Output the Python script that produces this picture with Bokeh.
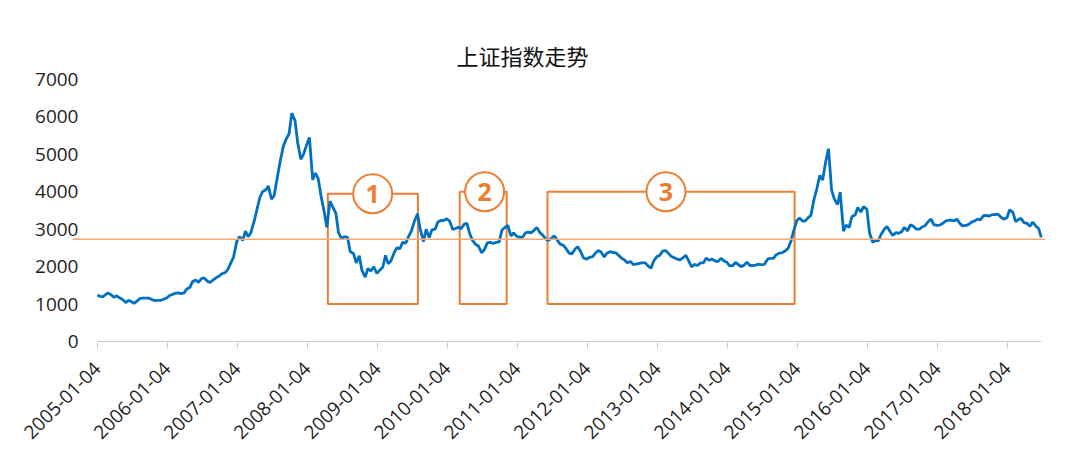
import math
from datetime import datetime
import pandas as pd
from bokeh.plotting import figure
from bokeh.models import Range1d, FixedTicker, Span, DatetimeTickFormatter
from bokeh.core.properties import value
from bokeh.embed import file_html
from bokeh.resources import INLINE

# ---------------- data ----------------
title_text = "上证指数走势"
x_labels = ["2005-01-04", "2006-01-04", "2007-01-04", "2008-01-04", "2009-01-04",
            "2010-01-04", "2011-01-04", "2012-01-04", "2013-01-04", "2014-01-04",
            "2015-01-04", "2016-01-04", "2017-01-04", "2018-01-04"]
y_ticks = [0, 1000, 2000, 3000, 4000, 5000, 6000, 7000]

# index level, twice a month (1st and 15th)
v2005 = [1242, 1210, 1190, 1250, 1300, 1250, 1180, 1220, 1160, 1120, 1040, 1100,
         1060, 1020, 1090, 1150, 1160, 1160, 1155, 1120, 1090, 1100, 1100, 1130]
v2006 = [1161, 1230, 1260, 1290, 1300, 1280, 1300, 1400, 1440, 1600, 1640, 1580,
         1680, 1700, 1610, 1580, 1650, 1700, 1750, 1810, 1840, 1920, 2100, 2250]
v2007 = [2675, 2800, 2700, 2950, 2800, 2900, 3200, 3500, 3840, 4000, 4050, 4150,
         3800, 3900, 4400, 4800, 5220, 5400, 5550, 6100, 5900, 5300, 4870, 5000]
v2008 = [5261, 5450, 4320, 4500, 4350, 3900, 3470, 3050, 3750, 3600, 3430, 2900,
         2750, 2800, 2780, 2400, 2350, 2100, 2290, 1900, 1720, 1950, 1880, 2000]
v2009 = [1821, 1900, 1990, 2300, 2080, 2150, 2370, 2500, 2480, 2650, 2630, 2800,
         2960, 3200, 3410, 3000, 2670, 3000, 2780, 2980, 3000, 3190, 3235, 3230]
v2010 = [3277, 3220, 2990, 3020, 3050, 3010, 3130, 3160, 2870, 2700, 2590, 2550,
         2370, 2450, 2640, 2650, 2620, 2650, 2660, 2970, 3050, 3100, 2820, 2900]
v2011 = [2808, 2790, 2790, 2900, 2920, 2900, 2970, 3050, 2910, 2850, 2740, 2700,
         2760, 2820, 2700, 2600, 2570, 2480, 2360, 2340, 2470, 2530, 2390, 2230]
v2012 = [2199, 2250, 2270, 2360, 2430, 2390, 2260, 2360, 2400, 2380, 2370, 2300,
         2225, 2180, 2100, 2140, 2050, 2070, 2090, 2100, 2100, 2020, 1960, 2150]
v2013 = [2269, 2300, 2420, 2430, 2360, 2280, 2240, 2200, 2180, 2230, 2300, 2160,
         1990, 2060, 2030, 2100, 2100, 2230, 2170, 2200, 2150, 2135, 2220, 2160]
v2014 = [2116, 2020, 2030, 2110, 2060, 2000, 2040, 2120, 2030, 2030, 2040, 2070,
         2050, 2060, 2200, 2220, 2220, 2320, 2360, 2370, 2420, 2480, 2680, 2950]
v2015 = [3235, 3300, 3210, 3230, 3310, 3370, 3810, 4080, 4440, 4310, 4830, 5150,
         4050, 3810, 3660, 3990, 2950, 3110, 3050, 3340, 3380, 3580, 3460, 3600]
v2016 = [3539, 2900, 2650, 2700, 2690, 2860, 3000, 3070, 2940, 2830, 2910, 2890,
         2930, 3050, 2950, 3120, 3070, 3000, 3000, 3060, 3100, 3200, 3270, 3120]
v2017 = [3104, 3110, 3160, 3220, 3240, 3240, 3220, 3270, 3150, 3090, 3100, 3130,
         3190, 3220, 3270, 3250, 3360, 3370, 3350, 3390, 3390, 3400, 3320, 3270]
v2018 = [3307, 3520, 3450, 3200, 3260, 3290, 3170, 3160, 3080, 3190, 3080, 3020]
last_date = "2018-06-29"
last_value = 2780

ref_level = 2730

box_labels = ["1", "2", "3"]
box_starts = ["2008-04-20", "2010-03-09", "2011-06-10"]
box_ends = ["2009-08-03", "2010-11-09", "2014-12-20"]
box_tops = [3950, 4000, 4000]
box_bottoms = [1000, 1000, 1000]
badge_dates = ["2008-12-10", "2010-07-17", "2013-02-17"]

# ---------------- build ----------------
values = (v2005 + v2006 + v2007 + v2008 + v2009 + v2010 + v2011 + v2012 +
          v2013 + v2014 + v2015 + v2016 + v2017 + v2018 + [last_value])
dates = list(pd.date_range("2005-01-01", "2018-06-15", freq="SMS"))
dates[0] = pd.Timestamp(x_labels[0])
dates.append(pd.Timestamp(last_date))

BLUE = "#0070C0"
ORANGE = "#ED7D31"
GRAY = "#C9C9C9"
TXT = "#1E1E1E"

p = figure(width=1076, height=458, x_axis_type="datetime",
           x_range=Range1d(datetime(2004, 8, 27), datetime(2018, 7, 21)),
           y_range=Range1d(-27, 7000),
           output_backend="svg", toolbar_location=None,
           min_border_left=72, min_border_right=31,
           min_border_top=79, min_border_bottom=116)
p.outline_line_color = None
p.xgrid.visible = False
p.ygrid.visible = False
p.background_fill_color = "white"
p.border_fill_color = "white"

# title
p.title.text = title_text
p.title.align = "left"
p.title.offset = 384
p.title.standoff = 17
p.title.text_font = "Noto Sans CJK SC"
p.title.text_font_size = "22px"
p.title.text_font_style = "normal"
p.title.text_color = "#111111"

# y axis
p.yaxis.ticker = FixedTicker(ticks=y_ticks)
p.yaxis.axis_line_color = None
p.yaxis.major_tick_line_color = None
p.yaxis.minor_tick_line_color = None
p.yaxis.major_tick_out = 0
p.yaxis.major_tick_in = 0
p.yaxis.major_label_standoff = -6
p.yaxis.major_label_text_font = "Open Sans"
p.yaxis.major_label_text_font_size = "19px"
p.yaxis.major_label_text_color = TXT

# x axis
tick_ms = [pd.Timestamp(s).value // 10**6 for s in x_labels]
p.xaxis.ticker = FixedTicker(ticks=tick_ms)
fmt = "%Y-%m-%d"
p.xaxis.formatter = DatetimeTickFormatter(years=fmt, months=fmt, days=fmt, hours=fmt,
                                          minutes=fmt, seconds=fmt, milliseconds=fmt,
                                          microseconds=fmt, hourmin=fmt, minsec=fmt)
p.xaxis.axis_line_color = None
p.xaxis.major_tick_line_color = GRAY
p.xaxis.minor_tick_line_color = None
p.xaxis.major_tick_out = 6
p.xaxis.major_tick_in = 0
p.xaxis.major_label_orientation = math.pi / 4
p.xaxis.major_label_standoff = 17
p.xaxis.major_label_text_font = "Open Sans"
p.xaxis.major_label_text_font_size = "19px"
p.xaxis.major_label_text_color = TXT

# baseline of the axis
p.segment(x0=[pd.Timestamp(x_labels[0])], x1=[pd.Timestamp(last_date)], y0=[0], y1=[0],
          line_color=GRAY, line_width=1)

# boxes
p.quad(left=[pd.Timestamp(d) for d in box_starts], right=[pd.Timestamp(d) for d in box_ends],
       top=box_tops, bottom=box_bottoms, fill_color=None, line_color=ORANGE, line_width=2)

# reference level
p.add_layout(Span(location=ref_level, dimension="width", line_color="#F4A874", line_width=1.5))

# index line
p.line(dates, values, line_color=BLUE, line_width=2.8)

# numbered badges
bd = [pd.Timestamp(d) for d in badge_dates]
p.scatter(bd, box_tops, marker="circle", size=39, fill_color="white",
          line_color=ORANGE, line_width=2)
p.text(bd, box_tops, text=box_labels, text_align="center", text_baseline="middle",
       text_font=value("Open Sans"), text_font_style="bold", text_font_size="25px",
       text_color=ORANGE)

open("out.html", "w").write(file_html(p, INLINE))
